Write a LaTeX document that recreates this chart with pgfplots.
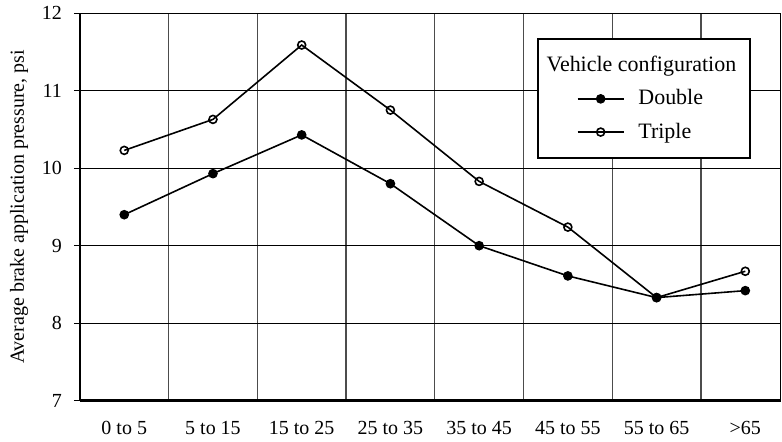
\documentclass[border=0pt]{standalone}
\usepackage{fontspec}
\setmainfont{Liberation Serif}
\usepackage{pgfplots}
\pgfplotsset{compat=1.18}

\begin{document}
\begin{tikzpicture}
\begin{axis}[
    scale only axis,
    width=351pt, height=194pt,
    xmin=-0.5, xmax=7.4,
    ymin=7, ymax=12,
    xtick={0,...,7},
    xticklabels={0 to 5, 5 to 15, 15 to 25, 25 to 35, 35 to 45, 45 to 55, 55 to 65, >65},
    minor xtick={0.5,1.5,...,6.5},
    xminorgrids=true,
    minor x grid style={black!70, line width=0.6pt},
    ytick={7,...,12},
    ymajorgrids=true,
    major y grid style={black, line width=0.6pt},
    x tick style={draw=none},
    minor x tick style={draw=none},
    y tick style={black, line width=0.6pt},
    tick align=outside,
    major tick length=3pt,
    ytick pos=left,
    xtick pos=bottom,
    /pgf/number format/assume math mode=true,
    tick label style={font=\fontsize{10}{12}\selectfont},
    xticklabel style={yshift=-4pt},
    yticklabel style={xshift=-2.5pt},
    ylabel={Average brake application pressure, psi},
    ylabel style={font=\fontsize{10}{12}\selectfont, yshift=0pt},
    axis line style={black, line width=0.6pt},
    legend style={at={(0.652,0.935)}, anchor=north west, draw=black, line width=0.9pt,
        font=\fontsize{11}{13}\selectfont, inner xsep=5pt, inner ysep=6.5pt,
        row sep=3.5pt, column sep=6pt, cells={anchor=west},
        nodes={inner xsep=1pt, inner ysep=2pt}},
    legend image code/.code={
        \path[draw=none] (-15pt,0pt) -- (23pt,0pt);
        \draw[mark repeat=2, mark phase=2, line width=0.8pt] plot coordinates {(0pt,0pt) (11.5pt,0pt) (23pt,0pt)};
    },
    clip=false,
]
\addlegendimage{empty legend}
\addlegendentry{\makebox[50pt][l]{\hspace*{-46pt}Vehicle configuration}}
\addplot[black, line width=0.8pt, mark=*, mark size=2pt, mark options={fill=black}]
    coordinates {(0,9.40) (1,9.93) (2,10.43) (3,9.80) (4,9.00) (5,8.61) (6,8.33) (7,8.42)};
\addlegendentry{\makebox[50pt][l]{Double}}
\addplot[black, line width=0.8pt, mark=o, mark size=2pt, mark options={fill=white}]
    coordinates {(0,10.23) (1,10.63) (2,11.59) (3,10.75) (4,9.83) (5,9.24) (6,8.33) (7,8.67)};
\addlegendentry{\makebox[50pt][l]{Triple}}
\draw[line width=1.2pt] (axis cs:-0.5,7) -- (axis cs:-0.5,12);
\draw[line width=1.2pt] (axis cs:-0.5,7) -- (axis cs:7.4,7);
\path (rel axis cs:0,0) ++(-40pt,0pt) coordinate (leftedge);
\path (leftedge) -- ++(0.1pt,0pt);
\end{axis}
\end{tikzpicture}
\end{document}
